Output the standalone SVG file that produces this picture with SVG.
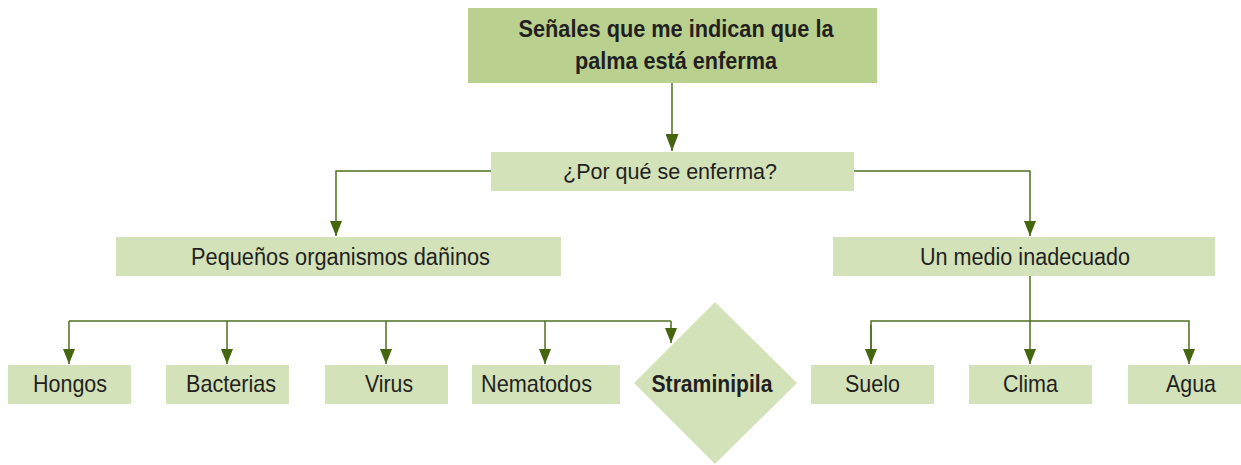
<svg xmlns="http://www.w3.org/2000/svg" width="1241" height="465" viewBox="0 0 1241 465">
<defs>
<style>
.box{fill:#d3e2b9}
.top{fill:#b9d08f}
.t{font-family:"Liberation Sans",Arial,sans-serif;font-size:24px;fill:#231f20;text-anchor:middle}
.b{font-weight:bold}
.h{font-size:23px}
.m{font-size:22px}
.c{fill:none;stroke:#4f6f22;stroke-width:1.5}
</style>
<marker id="ah" markerUnits="userSpaceOnUse" markerWidth="16" markerHeight="12" refX="15" refY="6" orient="auto" viewBox="0 0 16 12">
<path d="M0,0 L15,6 L0,12 z" fill="#46650f"/>
</marker>
<marker id="ah2" markerUnits="userSpaceOnUse" markerWidth="18" markerHeight="13" refX="17" refY="6.5" orient="auto" viewBox="0 0 18 13">
<path d="M0,0 L17,6.5 L0,13 z" fill="#46650f"/>
</marker>
</defs>
<g id="connectors">
<path class="c" d="M672,83 V151" marker-end="url(#ah2)"/>
<path class="c" d="M491,171 H336 V236" marker-end="url(#ah)"/>
<path class="c" d="M854,171 H1030 V236" marker-end="url(#ah)"/>
<path class="c" d="M69,321 H671"/>
<path class="c" d="M69,321 V364" marker-end="url(#ah)"/>
<path class="c" d="M227,321 V364" marker-end="url(#ah)"/>
<path class="c" d="M386,321 V364" marker-end="url(#ah)"/>
<path class="c" d="M545,321 V364" marker-end="url(#ah)"/>
<path class="c" d="M671,321 V343" marker-end="url(#ah)"/>
<path class="c" d="M1030,276 V364" marker-end="url(#ah)"/>
<path class="c" d="M871,364 V321 H1189 V364" marker-end="url(#ah)"/>
<path class="c" d="M871,325 V364" marker-end="url(#ah)"/>
</g>
<g id="n-title">
<rect class="top" x="468" y="8" width="409" height="75"/>
<text class="t b h" x="676" y="37" textLength="315" lengthAdjust="spacingAndGlyphs">Señales que me indican que la</text>
<text class="t b h" x="676" y="69" textLength="202" lengthAdjust="spacingAndGlyphs">palma está enferma</text>
</g>
<g id="n-porque">
<rect class="box" x="491" y="152" width="363" height="39"/>
<text class="t m" x="670" y="179" textLength="214" lengthAdjust="spacingAndGlyphs">¿Por qué se enferma?</text>
</g>
<g id="n-pequenos">
<rect class="box" x="116" y="237" width="445" height="39"/>
<text class="t h" x="340.5" y="265" textLength="299" lengthAdjust="spacingAndGlyphs">Pequeños organismos dañinos</text>
</g>
<g id="n-medio">
<rect class="box" x="833" y="237" width="382" height="39"/>
<text class="t h" x="1025" y="265" textLength="210" lengthAdjust="spacingAndGlyphs">Un medio inadecuado</text>
</g>
<g id="n-hongos">
<rect class="box" x="8" y="365" width="123" height="39"/>
<text class="t" x="70" y="391.5" textLength="74" lengthAdjust="spacingAndGlyphs">Hongos</text>
</g>
<g id="n-bacterias">
<rect class="box" x="166" y="365" width="123" height="39"/>
<text class="t" x="231" y="391.5" textLength="90" lengthAdjust="spacingAndGlyphs">Bacterias</text>
</g>
<g id="n-virus">
<rect class="box" x="325" y="365" width="123" height="39"/>
<text class="t" x="389" y="391.5" textLength="48" lengthAdjust="spacingAndGlyphs">Virus</text>
</g>
<g id="n-nematodos">
<rect class="box" x="472" y="365" width="148" height="39"/>
<text class="t" x="536.5" y="391.5" textLength="111" lengthAdjust="spacingAndGlyphs">Nematodos</text>
</g>
<g id="n-straminipila">
<polygon class="box" points="715,302 797,383 715,464 634,383"/>
<text class="t b" x="712" y="391.5" textLength="121" lengthAdjust="spacingAndGlyphs">Straminipila</text>
</g>
<g id="n-suelo">
<rect class="box" x="811" y="365" width="123" height="39"/>
<text class="t" x="872.5" y="391.5" textLength="55" lengthAdjust="spacingAndGlyphs">Suelo</text>
</g>
<g id="n-clima">
<rect class="box" x="969" y="365" width="123" height="39"/>
<text class="t" x="1030.5" y="391.5" textLength="55" lengthAdjust="spacingAndGlyphs">Clima</text>
</g>
<g id="n-agua">
<rect class="box" x="1128" y="365" width="113" height="39"/>
<text class="t" x="1191" y="391.5" textLength="50" lengthAdjust="spacingAndGlyphs">Agua</text>
</g>
</svg>
